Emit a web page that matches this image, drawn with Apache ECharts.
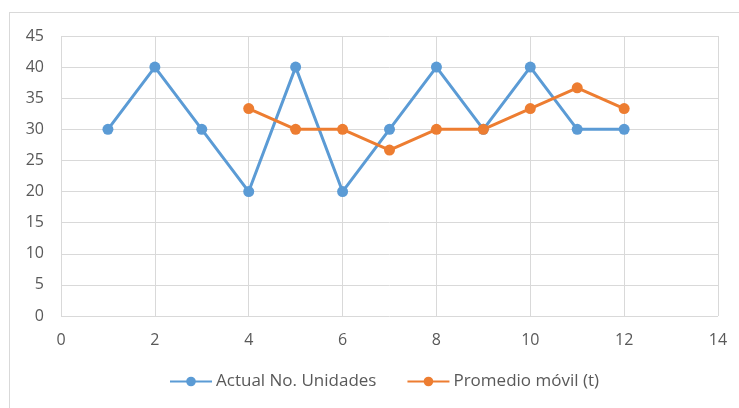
<!DOCTYPE html>
<html>
<head>
<meta charset="utf-8">
<script src="https://cdn.jsdelivr.net/npm/echarts@6/dist/echarts.min.js"></script>
<style>
  html, body { margin: 0; padding: 0; background: #fff; }
  #frame { position: absolute; left: 9px; top: 12px; width: 737px; height: 410px; border: 1px solid #d9d9d9; box-sizing: border-box; }
  #chart { position: absolute; left: 0; top: 0; width: 739px; height: 408px; }
</style>
</head>
<body>
<div id="frame"></div>
<div id="chart"></div>
<script>
// Periods and observed units
const periods = [1, 2, 3, 4, 5, 6, 7, 8, 9, 10, 11, 12];
const actualUnits = [30, 40, 30, 20, 40, 20, 30, 40, 30, 40, 30, 30];
// Three-period moving average, starting at period 4
const avgPeriods = [4, 5, 6, 7, 8, 9, 10, 11, 12];
const movingAvg = [33.33, 30, 30, 26.67, 30, 30, 33.33, 36.67, 33.33];

const seriesNames = ['Actual No. Unidades', 'Promedio móvil (t)'];
const font = '"Open Sans", "Liberation Sans", sans-serif';

const chart = echarts.init(document.getElementById('chart'), null, { renderer: 'canvas' });
chart.setOption({
  animation: false,
  backgroundColor: 'transparent',
  color: ['#5b9bd5', '#ed7d31'],
  grid: { left: 61, right: 21, top: 36, bottom: 92 },
  legend: {
    top: 373,
    left: 169,
    padding: 0,
    itemWidth: 42,
    itemHeight: 12,
    itemGap: 30,
    textStyle: { color: '#595959', fontSize: 17, fontFamily: font, padding: [0, 0, 0, -1] },
    data: seriesNames
  },
  xAxis: {
    type: 'value',
    min: 0, max: 14, interval: 2,
    axisLine: { show: false },
    axisTick: { show: false },
    splitLine: { show: true, lineStyle: { color: '#d9d9d9', width: 1 } },
    axisLabel: { color: '#595959', fontSize: 16, fontFamily: font, margin: 16 }
  },
  yAxis: {
    type: 'value',
    min: 0, max: 45, interval: 5,
    axisLine: { show: false },
    axisTick: { show: false },
    splitLine: { show: true, lineStyle: { color: '#d9d9d9', width: 1 } },
    axisLabel: { color: '#595959', fontSize: 16, fontFamily: font, margin: 17 }
  },
  series: [
    {
      name: seriesNames[0],
      type: 'line',
      data: periods.map((p, i) => [p, actualUnits[i]]),
      symbol: 'circle',
      symbolSize: 11,
      lineStyle: { width: 3 },
      z: 2
    },
    {
      name: seriesNames[1],
      type: 'line',
      data: avgPeriods.map((p, i) => [p, movingAvg[i]]),
      symbol: 'circle',
      symbolSize: 11,
      lineStyle: { width: 3 },
      z: 3
    }
  ]
});
</script>
</body>
</html>
